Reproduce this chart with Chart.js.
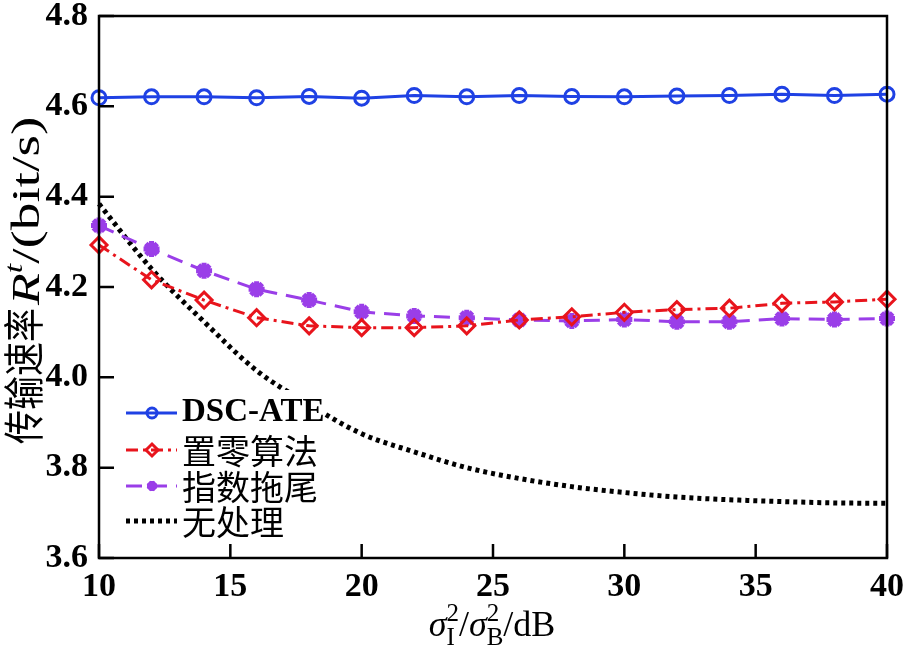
<!DOCTYPE html>
<html lang="zh">
<head>
<meta charset="UTF-8">
<title>传输速率 vs σI²/σB²</title>
<script src="https://cdn.jsdelivr.net/npm/chart.js@4.4.0/dist/chart.umd.min.js"></script>
<style>
  html, body { margin: 0; padding: 0; background: #fff; }
  #wrap { width: 904px; height: 649px; }
</style>
</head>
<body>
<div id="wrap"><canvas id="rateChart" width="904" height="649"></canvas></div>
<script>
// ---- values ----
const snrDb   = [10, 12, 14, 16, 18, 20, 22, 24, 26, 28, 30, 32, 34, 36, 38, 40];
const dscAte  = [4.619, 4.621, 4.621, 4.619, 4.622, 4.618, 4.624, 4.621, 4.624, 4.622, 4.621, 4.623, 4.624, 4.627, 4.624, 4.627];
const zeroing = [4.293, 4.216, 4.171, 4.132, 4.114, 4.110, 4.110, 4.114, 4.127, 4.134, 4.144, 4.150, 4.153, 4.164, 4.167, 4.173];
const expTail = [4.336, 4.284, 4.236, 4.195, 4.171, 4.145, 4.136, 4.132, 4.127, 4.125, 4.128, 4.123, 4.123, 4.130, 4.128, 4.130];
const noProc  = [4.384, 4.240, 4.123, 4.015, 3.940, 3.875, 3.835, 3.800, 3.776, 3.758, 3.745, 3.735, 3.729, 3.725, 3.722, 3.721];
const seriesNames = ['DSC-ATE', '置零算法', '指数拖尾', '无处理'];
const xTicks = [10, 15, 20, 25, 30, 35, 40];
const yTicks = [3.6, 3.8, 4.0, 4.2, 4.4, 4.6, 4.8];

const SERIF = "'Liberation Serif', 'Times New Roman', serif";
const CJK   = "'Noto Sans CJK SC', sans-serif";

const pts = ys => snrDb.map((x, i) => ({ x, y: ys[i] }));

// draw a row of text runs; a run with "stack" puts sup + sub on top of each other,
// "sx"/"sy" stretch a run along / across the baseline
function drawRuns(ctx, runs) {
  let x = 0;
  runs.forEach(r => {
    if (r.stack) {
      let w = 0;
      r.stack.forEach(s => {
        ctx.font = s.font;
        ctx.fillText(s.t, x, s.dy);
        w = Math.max(w, ctx.measureText(s.t).width);
      });
      x += w;
    } else {
      const sx = r.sx || 1;
      x += r.dx || 0;
      ctx.font = r.font;
      ctx.save();
      ctx.translate(x, r.dy || 0);
      ctx.scale(sx, r.sy || 1);
      ctx.fillText(r.t, 0, 0);
      ctx.restore();
      x += ctx.measureText(r.t).width * sx;
    }
  });
  return x;
}
function runsWidth(ctx, runs) {
  let w = 0;
  runs.forEach(r => {
    if (r.stack) {
      w += Math.max(...r.stack.map(s => { ctx.font = s.font; return ctx.measureText(s.t).width; }));
    } else { ctx.font = r.font; w += ctx.measureText(r.t).width * (r.sx || 1) + (r.dx || 0); }
  });
  return w;
}

/* inward ticks + closed box */
const framePlugin = {
  id: 'frame',
  afterDraw(chart) {
    const { ctx, chartArea: a, scales: { x, y } } = chart;
    ctx.save();
    ctx.strokeStyle = '#000';
    ctx.lineWidth = 2.5;
    ctx.strokeRect(a.left, a.top, a.right - a.left, a.bottom - a.top);
    ctx.beginPath();
    xTicks.forEach(v => {
      const px = x.getPixelForValue(v);
      ctx.moveTo(px, a.bottom); ctx.lineTo(px, a.bottom - 14);
    });
    yTicks.forEach(v => {
      const py = y.getPixelForValue(v);
      ctx.moveTo(a.left, py); ctx.lineTo(a.left + 15, py);
    });
    ctx.stroke();
    ctx.restore();
  }
};

/* axis titles with italic / sub / superscripts */
const titlePlugin = {
  id: 'titles',
  afterDraw(chart) {
    const ctx = chart.ctx;
    ctx.save();
    ctx.fillStyle = '#000';
    ctx.textBaseline = 'alphabetic';
    ctx.textAlign = 'left';

    const big = '36px ' + SERIF, it = 'italic 36px ' + SERIF, small = '25px ' + SERIF;
    const xRuns = [
      { t: 'σ', font: it },
      { stack: [{ t: '2', font: small, dy: -15 }, { t: 'I', font: small, dy: 9 }] },
      { t: '/', font: big },
      { t: 'σ', font: it },
      { stack: [{ t: '2', font: small, dy: -15 }, { t: 'B', font: small, dy: 9 }] },
      { t: '/dB', font: big }
    ];
    const xw = runsWidth(ctx, xRuns);
    ctx.save();
    ctx.translate(492 - xw / 2, 636);
    drawRuns(ctx, xRuns);
    ctx.restore();

    const yRuns = [
      { t: '传输速率', font: '34px ' + CJK, sy: 1.2 },
      { t: 'R', font: 'italic 40px ' + SERIF, dx: 3, sx: 1.3 },
      { t: 't', font: 'italic 26px ' + SERIF, dy: -17, sx: 1.3 },
      { t: '/(bit/s)', font: '40px ' + SERIF, sx: 1.38 }
    ];
    ctx.save();
    ctx.translate(39, 444);
    ctx.rotate(-Math.PI / 2);
    drawRuns(ctx, yRuns);
    ctx.restore();
    ctx.restore();
  }
};

/* legend inside the plot, lower left */
const legendPlugin = {
  id: 'innerLegend',
  afterDatasetsDraw(chart) {
    const ctx = chart.ctx;
    const rowsY = [413, 450, 486, 521];
    const markR = [5, 6, 5, 0];
    ctx.save();
    ctx.fillStyle = '#fff';
    ctx.fillRect(104, 390, 220, 150);
    chart.data.datasets.forEach((ds, i) => {
      const y = rowsY[i];
      ctx.save();
      ctx.strokeStyle = ds.borderColor;
      ctx.lineWidth = ds.borderWidth;
      ctx.setLineDash(ds.borderDash || []);
      ctx.beginPath();
      ctx.moveTo(126, y); ctx.lineTo(177, y);
      ctx.stroke();
      ctx.setLineDash([]);
      if (ds.pointRadius > 0) {
        ctx.fillStyle = ds.pointBackgroundColor;
        ctx.lineWidth = ds.pointBorderWidth;
        Chart.helpers.drawPoint(ctx, { pointStyle: ds.pointStyle, radius: markR[i], borderWidth: ds.pointBorderWidth, rotation: 0 }, 152, y);
      }
      ctx.restore();
      ctx.fillStyle = '#000';
      ctx.textBaseline = 'middle';
      ctx.textAlign = 'left';
      if (i === 0) {
        ctx.font = 'bold 33px ' + SERIF;
        ctx.fillText(seriesNames[i], 182, y - 1);
      } else {
        ctx.font = '34px ' + CJK;
        ctx.fillText(seriesNames[i], 182, y + 1);
      }
    });
    ctx.restore();
  }
};

const tickFont = { family: SERIF, size: 34, weight: 'bold', lineHeight: 0.9 };
// keep the plot box where the figure has it: no extra padding from tick labels
const noPad = s => { s.paddingTop = 0; s.paddingBottom = 0; s.paddingLeft = 0; s.paddingRight = 0; };

new Chart(document.getElementById('rateChart'), {
  type: 'line',
  data: {
    datasets: [
      { label: seriesNames[0], data: pts(dscAte), borderColor: '#1f41e4', borderWidth: 3,
        pointStyle: 'circle', pointRadius: 7, pointBorderWidth: 3,
        pointBorderColor: '#1f41e4', pointBackgroundColor: 'rgba(0,0,0,0)' },
      { label: seriesNames[1], data: pts(zeroing), borderColor: '#e8141c', borderWidth: 3,
        borderDash: [12, 5, 3, 5], pointStyle: 'rectRot', pointRadius: 8, pointBorderWidth: 3,
        pointBorderColor: '#e8141c', pointBackgroundColor: 'rgba(0,0,0,0)' },
      { label: seriesNames[2], data: pts(expTail), borderColor: '#9a3ee8', borderWidth: 3,
        borderDash: [16, 9], pointStyle: 'star', pointRadius: 8, pointBorderWidth: 5,
        pointBorderColor: '#9a3ee8', pointBackgroundColor: '#9a3ee8' },
      { label: seriesNames[3], data: pts(noProc), borderColor: '#000', borderWidth: 5,
        borderDash: [4, 4], pointRadius: 0, cubicInterpolationMode: 'monotone' }
    ]
  },
  options: {
    responsive: false,
    devicePixelRatio: 1,
    animation: false,
    clip: false,
    layout: { padding: { top: 16, right: 17, left: 0, bottom: 0 } },
    plugins: { legend: { display: false }, tooltip: { enabled: false } },
    scales: {
      x: {
        type: 'linear', min: 10, max: 40,
        afterFit: s => { s.height = 91; noPad(s); },
        afterBuildTicks: s => { s.ticks = xTicks.map(v => ({ value: v })); },
        grid: { display: false, drawTicks: false },
        border: { display: false },
        ticks: { padding: 14, color: '#000', font: tickFont }
      },
      y: {
        min: 3.6, max: 4.8,
        afterFit: s => { s.width = 99; noPad(s); },
        afterBuildTicks: s => { s.ticks = yTicks.map(v => ({ value: v })); },
        grid: { display: false, drawTicks: false },
        border: { display: false },
        ticks: { padding: 11, color: '#000', callback: v => v.toFixed(1), font: tickFont }
      }
    }
  },
  plugins: [legendPlugin, framePlugin, titlePlugin]
});
</script>
</body>
</html>
